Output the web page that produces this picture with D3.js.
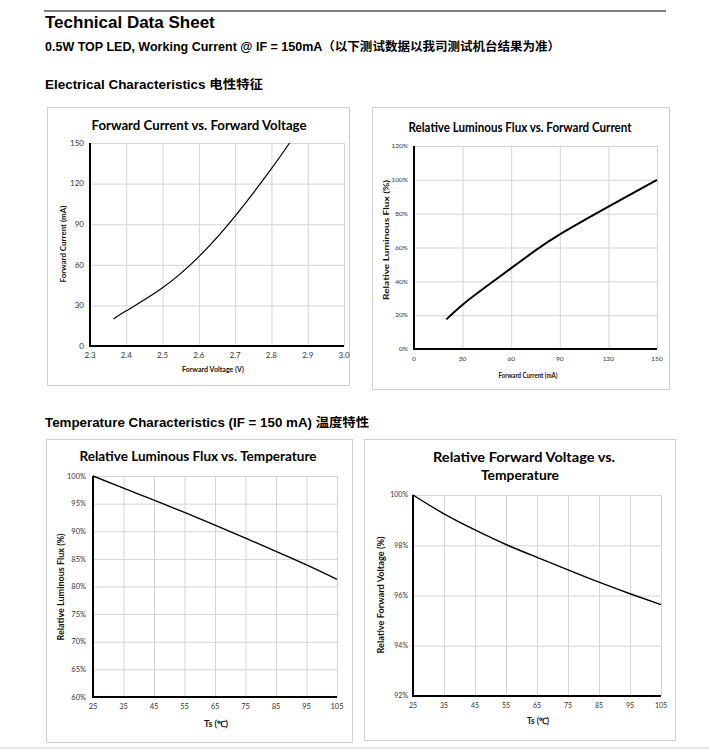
<!DOCTYPE html>
<html>
<head>
<meta charset="utf-8">
<script src="https://cdn.jsdelivr.net/npm/d3@7"></script>
<style>
  html, body { margin: 0; padding: 0; background: #fff; }
  svg { display: block; }
  .hdr { font-family: "Liberation Sans", Arial, "Noto Sans CJK SC", sans-serif; font-weight: bold; fill: #000; }
  .ct { font-family: Lato, "Open Sans", sans-serif; font-weight: bold; fill: #000; }
  .tk { font-family: Lato, "Open Sans", sans-serif; fill: #333; }
  .at { font-family: Lato, "Open Sans", sans-serif; font-weight: bold; fill: #111; }
</style>
</head>
<body>
<svg id="sheet" width="709" height="751"></svg>
<script>
// forward current vs forward voltage
var vfVoltage = [2.365, 2.4, 2.5, 2.6, 2.7, 2.8, 2.85];
var vfCurrent = [20, 26, 43, 66, 96, 131, 150];
var vfXTicks = [2.3, 2.4, 2.5, 2.6, 2.7, 2.8, 2.9, 3.0];
var vfYTicks = [0, 30, 60, 90, 120, 150];

// relative flux vs forward current
var fluxCurrent = [20, 30, 45, 60, 75, 90, 120, 150];
var fluxRel = [0.175, 0.262, 0.372, 0.478, 0.583, 0.678, 0.842, 1.0];
var fluxXTicks = [0, 30, 60, 90, 120, 150];
var fluxYTicks = [0, 0.2, 0.4, 0.6, 0.8, 1.0, 1.2];

// temperature
var tempTs = [25, 35, 45, 55, 65, 75, 85, 95, 105];
var tempFlux = [1.0, 0.978, 0.9563, 0.934, 0.911, 0.8875, 0.8635, 0.839, 0.813];
var tempVf = [1.0, 0.9925, 0.9861, 0.9803, 0.9752, 0.9702, 0.9653, 0.9607, 0.9564];
var tempXTicks = [25, 35, 45, 55, 65, 75, 85, 95, 105];
var tempFluxYTicks = [0.60, 0.65, 0.70, 0.75, 0.80, 0.85, 0.90, 0.95, 1.0];
var tempVfYTicks = [0.92, 0.94, 0.96, 0.98, 1.0];

var svg = d3.select("#sheet");

// header
svg.append("line").attr("x1", 44).attr("x2", 666).attr("y1", 11).attr("y2", 11)
  .attr("stroke", "#000").attr("stroke-width", 1);
svg.append("text").attr("class", "hdr").attr("x", 45).attr("y", 28)
  .style("font-size", "17px").text("Technical Data Sheet");
svg.append("text").attr("class", "hdr").attr("x", 45).attr("y", 51)
  .style("font-size", "12px").attr("textLength", 515).attr("lengthAdjust", "spacingAndGlyphs")
  .text("0.5W TOP LED, Working Current @ IF = 150mA（以下测试数据以我司测试机台结果为准）");
svg.append("text").attr("class", "hdr").attr("x", 45).attr("y", 89)
  .style("font-size", "12.5px").attr("textLength", 218).attr("lengthAdjust", "spacingAndGlyphs")
  .text("Electrical Characteristics  电性特征");
svg.append("text").attr("class", "hdr").attr("x", 45).attr("y", 427)
  .style("font-size", "12.5px").attr("textLength", 324).attr("lengthAdjust", "spacingAndGlyphs")
  .text("Temperature Characteristics (IF = 150 mA)  温度特性");
svg.append("line").attr("x1", 0).attr("x2", 709).attr("y1", 748).attr("y2", 748)
  .attr("stroke", "#c8c8c8").attr("stroke-width", 1);

function drawChart(c) {
  var g = svg.append("g");
  g.append("rect").attr("x", c.box[0] + 0.5).attr("y", c.box[1] + 0.5)
    .attr("width", c.box[2] - c.box[0]).attr("height", c.box[3] - c.box[1])
    .attr("fill", "#fff").attr("stroke", "#d0d0d0");

  var x = d3.scaleLinear().domain(c.xDomain).range([c.plot[0], c.plot[1]]);
  var y = d3.scaleLinear().domain(c.yDomain).range([c.plot[3], c.plot[2]]);

  // grid
  g.append("g").attr("transform", "translate(0," + c.plot[3] + ")")
    .call(d3.axisBottom(x).tickValues(c.xTicks).tickSize(-(c.plot[3] - c.plot[2])).tickFormat(""))
    .call(function(s) { s.select(".domain").remove(); s.selectAll("line").attr("stroke", "#d4d4d4"); });
  g.append("g").attr("transform", "translate(" + c.plot[0] + ",0)")
    .call(d3.axisLeft(y).tickValues(c.yTicks).tickSize(-(c.plot[1] - c.plot[0])).tickFormat(""))
    .call(function(s) { s.select(".domain").remove(); s.selectAll("line").attr("stroke", "#d4d4d4"); });

  // tick labels
  g.selectAll(".xl").data(c.xTicks).enter().append("text").attr("class", "tk")
    .attr("x", function(d) { return x(d); }).attr("y", c.plot[3] + c.xOff)
    .attr("text-anchor", "middle").style("font-size", c.tickSize + "px").text(c.xFmt);
  g.selectAll(".yl").data(c.yTicks).enter().append("text").attr("class", "tk")
    .attr("x", c.plot[0] - c.yOff).attr("y", function(d) { return y(d); }).attr("dy", "0.35em")
    .attr("text-anchor", "end").style("font-size", c.tickSize + "px").text(c.yFmt);

  // axes lines
  g.append("line").attr("x1", c.plot[0]).attr("x2", c.plot[0]).attr("y1", c.plot[2]).attr("y2", c.plot[3] + 1)
    .attr("stroke", "#000").attr("stroke-width", 2);
  g.append("line").attr("x1", c.plot[0] - 1).attr("x2", c.plot[1]).attr("y1", c.plot[3]).attr("y2", c.plot[3])
    .attr("stroke", "#000").attr("stroke-width", 2);

  // curve
  var line = d3.line().x(function(d) { return x(d[0]); }).y(function(d) { return y(d[1]); })
    .curve(d3.curveNatural);
  g.append("path").datum(d3.zip(c.xs, c.ys)).attr("d", line)
    .attr("fill", "none").attr("stroke", "#000").attr("stroke-width", c.lw);

  // titles
  c.title.forEach(function(t) {
    g.append("text").attr("class", "ct").attr("x", t[1]).attr("y", t[2]).attr("dy", "0.35em")
      .attr("text-anchor", "middle").style("font-size", c.titleSize + "px")
      .attr("textLength", t[3]).attr("lengthAdjust", "spacingAndGlyphs").text(t[0]);
  });
  g.append("text").attr("class", "at").attr("x", c.xTitle[1]).attr("y", c.xTitle[2]).attr("dy", "0.35em")
    .attr("text-anchor", "middle").style("font-size", c.axisSize + "px")
    .attr("textLength", c.xTitle[3]).attr("lengthAdjust", "spacingAndGlyphs").text(c.xTitle[0]);
  g.append("text").attr("class", "at").attr("transform", "translate(" + c.yTitle[1] + "," + c.yTitle[2] + ") rotate(-90)")
    .attr("dy", "0.35em").attr("text-anchor", "middle").style("font-size", c.axisSize + "px")
    .attr("textLength", c.yTitle[3]).attr("lengthAdjust", "spacingAndGlyphs").text(c.yTitle[0]);
}

var pct = d3.format(".0%");

drawChart({
  box: [47, 107, 349, 385], plot: [90, 344, 143, 346],
  xDomain: [2.3, 3.0], yDomain: [0, 150], xTicks: vfXTicks, yTicks: vfYTicks,
  xFmt: d3.format(".1f"), yFmt: d3.format("d"), xs: vfVoltage, ys: vfCurrent,
  tickSize: 8, xOff: 12, yOff: 6, lw: 1.2,
  title: [["Forward Current vs. Forward Voltage", 199, 125, 215]], titleSize: 14,
  xTitle: ["Forward Voltage (V)", 213, 369, 62], yTitle: ["Forward Current (mA)", 63, 244, 77], axisSize: 8
});

drawChart({
  box: [372, 107, 669, 389], plot: [414, 657, 146, 349],
  xDomain: [0, 150], yDomain: [0, 1.2], xTicks: fluxXTicks, yTicks: fluxYTicks,
  xFmt: d3.format("d"), yFmt: pct, xs: fluxCurrent, ys: fluxRel,
  tickSize: 6.5, xOff: 12, yOff: 6, lw: 2,
  title: [["Relative Luminous Flux vs. Forward Current", 520, 127, 223]], titleSize: 13,
  xTitle: ["Forward Current (mA)", 528, 375, 59], yTitle: ["Relative Luminous Flux (%)", 386, 240, 120], axisSize: 7.5
});

drawChart({
  box: [46, 439, 352, 742], plot: [93, 337, 476, 697],
  xDomain: [25, 105], yDomain: [0.6, 1.0], xTicks: tempXTicks, yTicks: tempFluxYTicks,
  xFmt: d3.format("d"), yFmt: pct, xs: tempTs, ys: tempFlux,
  tickSize: 7.5, xOff: 12, yOff: 7, lw: 1.4,
  title: [["Relative Luminous Flux vs. Temperature", 198, 456, 237]], titleSize: 14,
  xTitle: ["Ts (℃)", 216, 724, 24], yTitle: ["Relative Luminous Flux (%)", 61, 587, 107], axisSize: 8.5
});

drawChart({
  box: [364, 439, 675, 740], plot: [413, 661, 495, 696],
  xDomain: [25, 105], yDomain: [0.92, 1.0], xTicks: tempXTicks, yTicks: tempVfYTicks,
  xFmt: d3.format("d"), yFmt: pct, xs: tempTs, ys: tempVf,
  tickSize: 7, xOff: 12, yOff: 5, lw: 1.4,
  title: [["Relative Forward Voltage vs.", 524, 457, 182], ["Temperature", 520, 475, 78]], titleSize: 14,
  xTitle: ["Ts (℃)", 538, 721, 22], yTitle: ["Relative Forward Voltage (%)", 381, 595, 117], axisSize: 8.5
});
</script>
</body>
</html>
